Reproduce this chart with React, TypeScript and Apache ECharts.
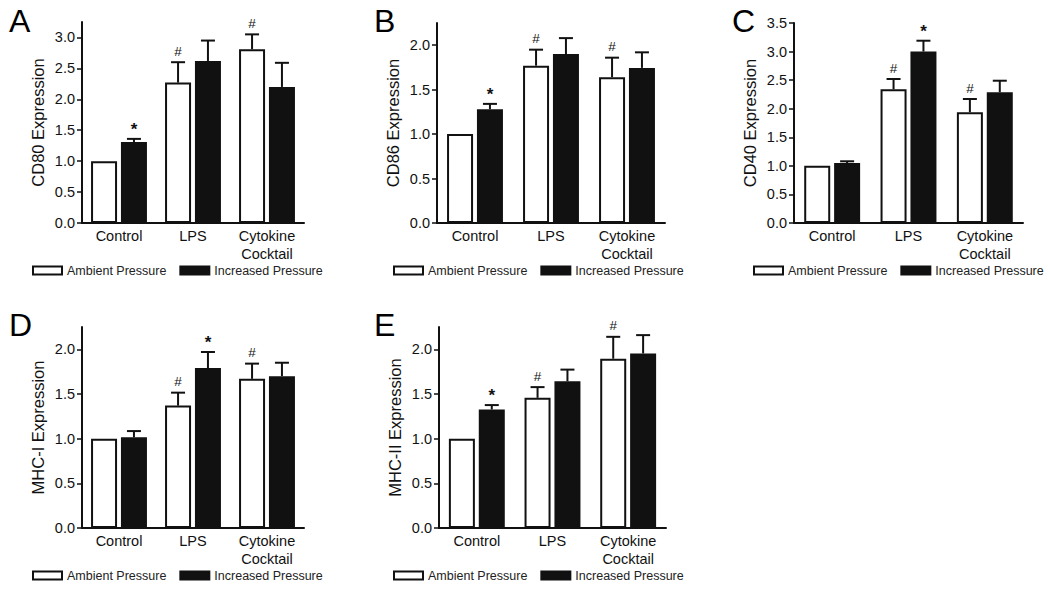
import React, { useEffect, useRef } from "react";
import * as echarts from "echarts";

const categories = ["Control", "LPS", "Cytokine\nCocktail"];
const seriesNames = ["Ambient Pressure", "Increased Pressure"];

// Panel A – CD80
const ambientA = [1.0, 2.27, 2.81];
const ambientSemA = [0, 0.33, 0.24];
const increasedA = [1.31, 2.62, 2.2];
const increasedSemA = [0.05, 0.33, 0.39];
const ambientSigA = ["", "#", "#"];
const increasedSigA = ["*", "", ""];

// Panel B – CD86
const ambientB = [1.0, 1.77, 1.64];
const ambientSemB = [0, 0.18, 0.22];
const increasedB = [1.28, 1.9, 1.745];
const increasedSemB = [0.06, 0.18, 0.175];
const ambientSigB = ["", "#", "#"];
const increasedSigB = ["*", "", ""];

// Panel C – CD40
const ambientC = [1.0, 2.34, 1.94];
const ambientSemC = [0, 0.18, 0.23];
const increasedC = [1.05, 3.0, 2.29];
const increasedSemC = [0.03, 0.19, 0.2];
const ambientSigC = ["", "#", "#"];
const increasedSigC = ["", "*", ""];

// Panel D – MHC-I
const ambientD = [1.0, 1.37, 1.67];
const ambientSemD = [0, 0.145, 0.17];
const increasedD = [1.015, 1.79, 1.7];
const increasedSemD = [0.07, 0.18, 0.15];
const ambientSigD = ["", "#", "#"];
const increasedSigD = ["", "*", ""];

// Panel E – MHC-II
const ambientE = [1.0, 1.457, 1.895];
const ambientSemE = [0, 0.12, 0.245];
const increasedE = [1.326, 1.643, 1.954];
const increasedSemE = [0.05, 0.13, 0.205];
const ambientSigE = ["", "#", "#"];
const increasedSigE = ["*", "", ""];

const yTicksA = [0, 0.5, 1.0, 1.5, 2.0, 2.5, 3.0];
const yTicksB = [0, 0.5, 1.0, 1.5, 2.0];
const yTicksC = [0, 0.5, 1.0, 1.5, 2.0, 2.5, 3.0, 3.5];
const yTicksD = [0, 0.5, 1.0, 1.5, 2.0];
const yTicksE = [0, 0.5, 1.0, 1.5, 2.0];

const panels = [
  { letter: "A", title: "CD80 Expression", amb: ambientA, ambSem: ambientSemA, inc: increasedA, incSem: increasedSemA, ambSig: ambientSigA, incSig: increasedSigA, ticks: yTicksA, yMax: 3.25,
    grid: { left: 82, top: 22, width: 222, height: 201 }, legend: { left: 32, top: 264 }, letterPos: [9, 5] },
  { letter: "B", title: "CD86 Expression", amb: ambientB, ambSem: ambientSemB, inc: increasedB, incSem: increasedSemB, ambSig: ambientSigB, incSig: increasedSigB, ticks: yTicksB, yMax: 2.25,
    grid: { left: 437, top: 23, width: 228, height: 200 }, legend: { left: 393, top: 264 }, letterPos: [374, 5] },
  { letter: "C", title: "CD40 Expression", amb: ambientC, ambSem: ambientSemC, inc: increasedC, incSem: increasedSemC, ambSig: ambientSigC, incSig: increasedSigC, ticks: yTicksC, yMax: 3.5,
    grid: { left: 794, top: 23, width: 229, height: 200 }, legend: { left: 753, top: 264 }, letterPos: [732, 5] },
  { letter: "D", title: "MHC-I Expression", amb: ambientD, ambSem: ambientSemD, inc: increasedD, incSem: increasedSemD, ambSig: ambientSigD, incSig: increasedSigD, ticks: yTicksD, yMax: 2.25,
    grid: { left: 82, top: 327, width: 222, height: 201 }, legend: { left: 32, top: 569 }, letterPos: [9, 309] },
  { letter: "E", title: "MHC-II Expression", amb: ambientE, ambSem: ambientSemE, inc: increasedE, incSem: increasedSemE, ambSig: ambientSigE, incSig: increasedSigE, ticks: yTicksE, yMax: 2.25,
    grid: { left: 439, top: 327, width: 227, height: 201 }, legend: { left: 393, top: 569 }, letterPos: [374, 309] },
];

const FONT = "'Liberation Sans', Arial, Helvetica, sans-serif";
const INK = "#111";
const BAR_W = 26;
const BAR_GAP = 0.15;

function buildOption() {
  const grid: any[] = [];
  const xAxis: any[] = [];
  const yAxis: any[] = [];
  const legend: any[] = [];
  const series: any[] = [];
  const graphic: any[] = [];

  panels.forEach((p, i) => {
    grid.push({ ...p.grid, containLabel: false });
    xAxis.push({
      type: "category",
      gridIndex: i,
      data: categories,
      axisLine: { show: true, lineStyle: { color: INK, width: 2 } },
      axisTick: { show: false },
      axisLabel: { color: INK, fontSize: 14.5, fontFamily: FONT, margin: 4, lineHeight: 18, interval: 0 },
    });
    yAxis.push({
      type: "value",
      gridIndex: i,
      min: 0,
      max: p.yMax,
      name: p.title,
      nameLocation: "middle",
      nameGap: 36,
      nameTextStyle: { color: INK, fontSize: 16.5, fontFamily: FONT },
      axisLine: { show: true, lineStyle: { color: INK, width: 2 } },
      axisTick: { show: true, length: 5, lineStyle: { color: INK, width: 1.5 }, customValues: p.ticks },
      axisLabel: {
        color: INK,
        fontSize: 14.5,
        fontFamily: FONT,
        margin: 7,
        customValues: p.ticks,
        formatter: (v: number) => v.toFixed(1),
      },
      splitLine: { show: false },
    });
    legend.push({
      left: p.legend.left,
      top: p.legend.top,
      width: 330,
      padding: 0,
      data: seriesNames,
      icon: "rect",
      itemWidth: 29,
      itemHeight: 8,
      itemGap: 13,
      selectedMode: false,
      textStyle: { color: "#222", fontSize: 12.5, fontFamily: FONT },
    });
    series.push({
      name: seriesNames[0],
      type: "bar",
      xAxisIndex: i,
      yAxisIndex: i,
      data: p.amb,
      barWidth: BAR_W,
      barGap: BAR_GAP * 100 + "%",
      itemStyle: { color: "#fff", borderColor: INK, borderWidth: 2 },
    });
    series.push({
      name: seriesNames[1],
      type: "bar",
      xAxisIndex: i,
      yAxisIndex: i,
      data: p.inc,
      barWidth: BAR_W,
      barGap: BAR_GAP * 100 + "%",
      itemStyle: { color: INK, borderColor: INK, borderWidth: 2 },
    });
    const errData: any[] = [];
    p.amb.forEach((v, k) => errData.push([k, v, p.ambSem[k], 0, p.ambSig[k]]));
    p.inc.forEach((v, k) => errData.push([k, v, p.incSem[k], 1, p.incSig[k]]));
    series.push({
      type: "custom",
      xAxisIndex: i,
      yAxisIndex: i,
      silent: true,
      z: 5,
      data: errData,
      renderItem: (params: any, api: any) => {
        const cat = api.value(0);
        const val = api.value(1);
        const sem = api.value(2);
        const which = api.value(3);
        const sig = errData[params.dataIndex][4];
        const off = (which === 0 ? -1 : 1) * (BAR_W * (1 + BAR_GAP)) / 2;
        const cx = api.coord([cat, 0])[0] + off;
        const yBar = api.coord([cat, val])[1];
        const yTop = api.coord([cat, val + sem])[1];
        const children: any[] = [];
        if (sem > 0) {
          children.push({ type: "line", shape: { x1: cx, y1: yBar, x2: cx, y2: yTop }, style: { stroke: INK, lineWidth: 2 } });
          children.push({ type: "line", shape: { x1: cx - 7, y1: yTop, x2: cx + 7, y2: yTop }, style: { stroke: INK, lineWidth: 2 } });
        }
        if (sig) {
          const isStar = sig === "*";
          children.push({
            type: "text",
            x: cx,
            y: yTop - (isStar ? 1 : 4),
            style: {
              text: sig,
              fill: INK,
              fontSize: isStar ? 17 : 13.5,
              fontWeight: isStar ? "bold" : "normal",
              fontFamily: FONT,
              align: "center",
              verticalAlign: "bottom",
            },
          });
        }
        return { type: "group", children };
      },
    });
    graphic.push({
      type: "text",
      x: p.letterPos[0],
      y: p.letterPos[1],
      style: { text: p.letter, fill: "#000", fontSize: 32, fontFamily: FONT, verticalAlign: "top" },
    });
  });

  return { animation: false, backgroundColor: "#fff", grid, xAxis, yAxis, legend, series, graphic };
}

export default function App() {
  const ref = useRef<HTMLDivElement>(null);
  useEffect(() => {
    if (!ref.current) return;
    const chart = echarts.init(ref.current, undefined, { renderer: "svg" });
    chart.setOption(buildOption() as any);
    return () => chart.dispose();
  }, []);
  return <div ref={ref} style={{ position: "absolute", left: 0, top: 0, width: 1050, height: 594, background: "#fff" }} />;
}
